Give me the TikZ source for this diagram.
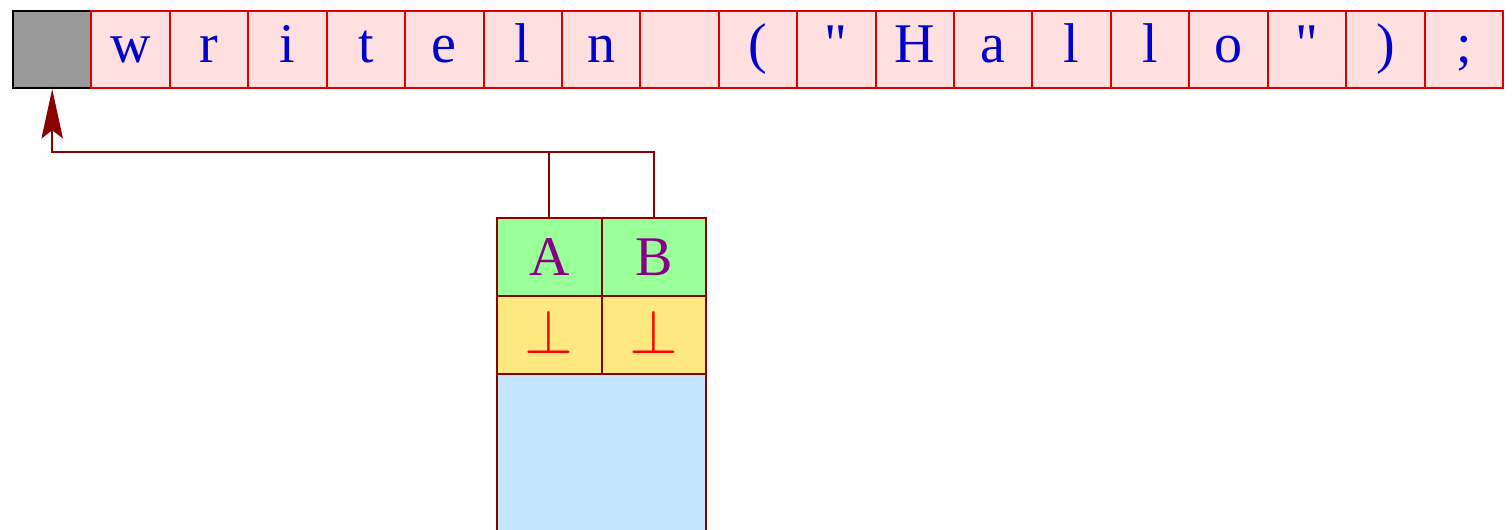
\documentclass[tikz,border=0pt]{standalone}
\usepackage{fontspec}
\setmainfont{Liberation Serif}
\newfontfamily\plainserif{Liberation Serif}
\usepackage{graphicx}
\usetikzlibrary{arrows.meta}
\definecolor{cellfill}{HTML}{FFE0E0}
\definecolor{cellline}{HTML}{DD0000}
\definecolor{txtblue}{HTML}{0000CC}
\definecolor{grayfill}{HTML}{999999}
\definecolor{greenfill}{HTML}{99FF99}
\definecolor{yellowfill}{HTML}{FFE880}
\definecolor{bluefill}{HTML}{C4E6FF}
\definecolor{darkline}{HTML}{8B0000}
\definecolor{purpletxt}{HTML}{880088}
\newcommand{\bigperp}{\raisebox{5pt}{\scalebox{4.7}{$\perp$}}}
\begin{document}
\begin{tikzpicture}[x=0.75pt,y=-0.75pt,
  cellbox/.style={draw=cellline,fill=cellfill,line width=1.5pt,minimum width=78.4*0.75pt,minimum height=77*0.75pt,inner sep=0pt,anchor=north west,text=txtblue,font=\fontsize{42}{48}\selectfont},
  graybox/.style={draw=black,fill=grayfill,line width=1.5pt,minimum width=78.4*0.75pt,minimum height=77*0.75pt,inner sep=0pt,anchor=north west},
  stackcell/.style={draw=darkline,line width=1.5pt,minimum width=104.5*0.75pt,minimum height=78*0.75pt,inner sep=0pt,anchor=north west},
  conn/.style={draw=darkline,line width=1.5pt}]
\useasboundingbox (0,0) rectangle (1512,529);
\node[graybox] (c0) at (12,10) {};
\node[cellbox] (c1) at ({12+78.42*1},10) {\strut w};
\node[cellbox] (c2) at ({12+78.42*2},10) {\strut r};
\node[cellbox] (c3) at ({12+78.42*3},10) {\strut i};
\node[cellbox] (c4) at ({12+78.42*4},10) {\strut t};
\node[cellbox] (c5) at ({12+78.42*5},10) {\strut e};
\node[cellbox] (c6) at ({12+78.42*6},10) {\strut l};
\node[cellbox] (c7) at ({12+78.42*7},10) {\strut n};
\node[cellbox] (c8) at ({12+78.42*8},10) {\strut};
\node[cellbox] (c9) at ({12+78.42*9},10) {\strut (};
\node[cellbox] (c10) at ({12+78.42*10},10) {\strut\plainserif "};
\node[cellbox] (c11) at ({12+78.42*11},10) {\strut H};
\node[cellbox] (c12) at ({12+78.42*12},10) {\strut a};
\node[cellbox] (c13) at ({12+78.42*13},10) {\strut l};
\node[cellbox] (c14) at ({12+78.42*14},10) {\strut l};
\node[cellbox] (c15) at ({12+78.42*15},10) {\strut o};
\node[cellbox] (c16) at ({12+78.42*16},10) {\strut\plainserif "};
\node[cellbox] (c17) at ({12+78.42*17},10) {\strut )};
\node[cellbox] (c18) at ({12+78.42*18},10) {\strut ;};
% stack
\node[stackcell,fill=bluefill,minimum width=209*0.75pt,minimum height=170*0.75pt] (blue) at (496,373) {};
\node[stackcell,fill=greenfill,text=purpletxt,font=\fontsize{42}{48}\selectfont] (A) at (496,217) {A};
\node[stackcell,fill=greenfill,text=purpletxt,font=\fontsize{42}{48}\selectfont] (B) at (600.5,217) {B};
\node[stackcell,fill=yellowfill,text=red] (bA) at (496,295) {\bigperp};
\node[stackcell,fill=yellowfill,text=red] (bB) at (600.5,295) {\bigperp};
\coordinate (j) at (A.north |- 0,152);
\draw[conn] (B.north) |- (j);
\draw[conn,-{Stealth[length=37pt,width=16pt,inset=6pt]}] (A.north) -- (j) -| (c0.south);
\end{tikzpicture}
\end{document}
